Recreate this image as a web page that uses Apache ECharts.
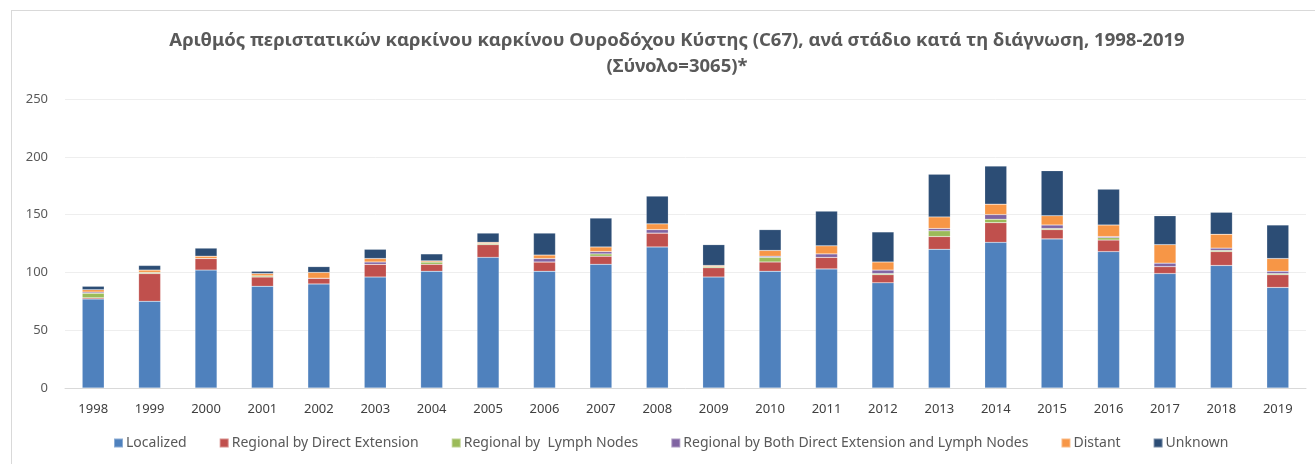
<!DOCTYPE html>
<html>
<head>
<meta charset="utf-8">
<script src="https://cdn.jsdelivr.net/npm/echarts@6/dist/echarts.min.js"></script>
<style>
  html, body { margin: 0; padding: 0; background: #fff; }
  #frame { position: absolute; left: 11px; top: 10px; width: 1400px; height: 500px; border: 1px solid #d9d9d9; }
  #chart { position: absolute; left: 0; top: 0; width: 1315px; height: 464px; }
</style>
</head>
<body>
<div id="frame"></div>
<div id="chart"></div>
<script>
const years = ['1998', '1999', '2000', '2001', '2002', '2003', '2004', '2005', '2006', '2007', '2008',
    '2009', '2010', '2011', '2012', '2013', '2014', '2015', '2016', '2017', '2018', '2019'];

const localized = [77, 75, 102, 88, 90, 96, 101, 113, 101, 107, 122, 96, 101, 103, 91, 120, 126, 129, 118, 99, 106, 87];
const regionalDirect = [1, 24, 10, 8, 5, 11, 6, 11, 8, 7, 12, 8, 8, 10, 7, 11, 17, 8, 10, 6, 12, 11];
const regionalLymph = [4, 1, 0, 1, 0, 0, 2, 1, 0, 2, 0, 1, 4, 0, 1, 5, 3, 1, 2, 0, 1, 1];
const regionalBoth = [1, 0, 0, 0, 0, 2, 0, 0, 3, 2, 3, 0, 1, 3, 3, 2, 4, 3, 1, 3, 2, 2];
const distant = [2, 2, 2, 2, 5, 3, 1, 1, 3, 4, 5, 1, 5, 7, 7, 10, 9, 8, 10, 16, 12, 11];
const unknown = [3, 4, 7, 2, 5, 8, 6, 8, 19, 25, 24, 18, 18, 30, 26, 37, 33, 39, 31, 25, 19, 29];

const seriesNames = ['Localized', 'Regional by Direct Extension', 'Regional by  Lymph Nodes',
    'Regional by Both Direct Extension and Lymph Nodes', 'Distant', 'Unknown'];
const seriesData = [localized, regionalDirect, regionalLymph, regionalBoth, distant, unknown];
const colors = ['#4F81BD', '#C0504D', '#9BBB59', '#8064A2', '#F79646', '#2C4D75'];

const chart = echarts.init(document.getElementById('chart'));

const option = {
    animation: false,
    color: colors,
    title: {
        text: 'Αριθμός περιστατικών καρκίνου καρκίνου Ουροδόχου Κύστης (C67), ανά στάδιο κατά τη διάγνωση, 1998-2019\n(Σύνολο=3065)*',
        left: 672,
        textAlign: 'center',
        top: 23,
        textStyle: {
            fontFamily: 'Noto Sans',
            fontSize: 18.5,
            fontWeight: 'bold',
            color: '#595959',
            lineHeight: 26
        }
    },
    legend: {
        bottom: 9,
        left: 108,
        itemWidth: 9,
        itemHeight: 9,
        itemGap: 32,
        icon: 'rect',
        textStyle: { fontFamily: 'Noto Sans', fontSize: 14, color: '#595959', padding: [0, 0, 0, -2] },
        data: seriesNames
    },
    grid: { left: 65, right: 9, top: 99, bottom: 76 },
    xAxis: {
        type: 'category',
        data: years,
        axisTick: { show: false },
        axisLine: { lineStyle: { color: '#d9d9d9', width: 1 } },
        axisLabel: { fontFamily: 'Noto Sans', fontSize: 13, color: '#404040', margin: 15 }
    },
    yAxis: {
        type: 'value',
        min: 0,
        max: 250,
        interval: 50,
        axisLine: { show: false },
        axisTick: { show: false },
        axisLabel: { fontFamily: 'Noto Sans', fontSize: 13, color: '#595959', margin: 17 },
        splitLine: { lineStyle: { color: '#eeeeee', width: 1 } }
    },
    series: seriesNames.map((name, i) => ({
        name,
        type: 'bar',
        stack: 'total',
        barWidth: 22,
        itemStyle: { borderColor: 'rgba(255,255,255,0.35)', borderWidth: 0.5 },
        data: seriesData[i]
    }))
};

chart.setOption(option);
window.addEventListener('resize', () => chart.resize());
</script>
</body>
</html>
